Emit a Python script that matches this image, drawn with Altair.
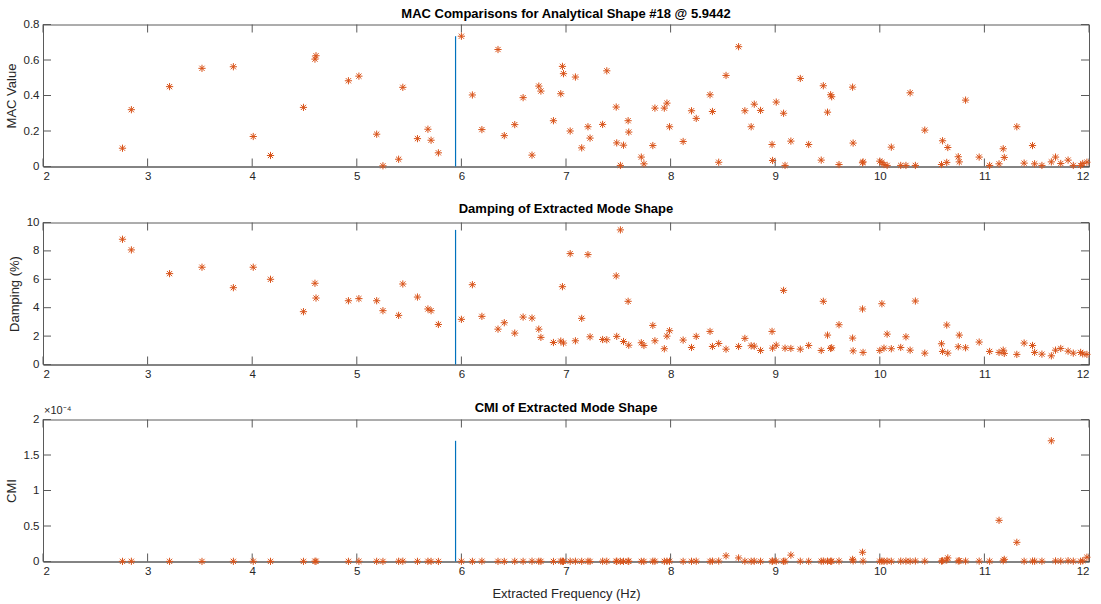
import altair as alt
import pandas as pd

# Extracted modal frequencies (Hz) with their MAC, damping and CMI values
freq = [
    2.76, 2.845, 3.21, 3.52, 3.82, 4.01, 4.175, 4.49, 4.60, 4.61,
    4.92, 5.02, 5.19, 5.25, 5.40, 5.44, 5.58, 5.68, 5.71, 5.78,
    6.00, 6.105, 6.196, 6.35, 6.41, 6.51, 6.59, 6.675, 6.74, 6.76,
    6.88, 6.95, 6.966, 6.976, 7.04, 7.09, 7.15, 7.21, 7.23, 7.35,
    7.39, 7.48, 7.485, 7.52, 7.55, 7.594, 7.60, 7.72, 7.745, 7.83,
    7.85, 7.94, 7.965, 7.99, 8.12, 8.20, 8.245, 8.377, 8.40, 8.46,
    8.53, 8.65, 8.71, 8.77, 8.80, 8.86, 8.97, 8.975, 9.01, 9.08,
    9.094, 9.15, 9.24, 9.32, 9.44, 9.46, 9.50, 9.53, 9.54, 9.61,
    9.74, 9.745, 9.835, 9.84, 10.00, 10.02, 10.04, 10.07, 10.11, 10.20,
    10.25, 10.29, 10.34, 10.43, 10.59, 10.60, 10.64, 10.65, 10.75, 10.76,
    10.82, 10.95, 11.05, 11.14, 11.18, 11.19, 11.31, 11.38, 11.46, 11.48,
    11.55, 11.64, 11.68, 11.73, 11.80, 11.85, 11.92, 11.94, 11.98,
]

mac = [
    0.103, 0.32, 0.45, 0.553, 0.562, 0.169, 0.062, 0.333, 0.605, 0.624,
    0.483, 0.509, 0.182, 0.004, 0.041, 0.446, 0.157, 0.21, 0.148, 0.077,
    0.734, 0.403, 0.208, 0.659, 0.174, 0.236, 0.388, 0.064, 0.453, 0.425,
    0.258, 0.41, 0.564, 0.523, 0.20, 0.504, 0.105, 0.224, 0.16, 0.237,
    0.539, 0.335, 0.133, 0.006, 0.12, 0.258, 0.194, 0.053, 0.015, 0.118,
    0.329, 0.329, 0.357, 0.224, 0.141, 0.314, 0.271, 0.404, 0.31, 0.024,
    0.513, 0.675, 0.314, 0.224, 0.351, 0.316, 0.124, 0.034, 0.363, 0.30,
    0.006, 0.143, 0.496, 0.124, 0.036, 0.455, 0.306, 0.404, 0.393, 0.011,
    0.447, 0.132, 0.021, 0.026, 0.03, 0.023, 0.011, 0.006, 0.109, 0.006,
    0.006, 0.415, 0.006, 0.205, 0.011, 0.145, 0.023, 0.107, 0.055, 0.026,
    0.374, 0.053, 0.006, 0.015, 0.10, 0.051, 0.224, 0.019, 0.118, 0.015,
    0.006, 0.026, 0.053, 0.017, 0.036, 0.006, 0.006, 0.017, 0.024,
]

damping = [
    8.82, 8.07, 6.40, 6.85, 5.41, 6.85, 6.00, 3.72, 5.72, 4.68,
    4.49, 4.64, 4.49, 3.79, 3.46, 5.67, 4.75, 3.91, 3.79, 2.82,
    3.18, 5.62, 3.39, 2.49, 2.94, 2.21, 3.34, 3.27, 2.49, 1.91,
    1.55, 1.65, 5.48, 1.51, 7.81, 1.67, 3.25, 7.74, 1.95, 1.76,
    1.74, 6.24, 1.98, 9.48, 1.62, 4.45, 1.36, 1.53, 1.34, 2.75,
    1.67, 1.11, 2.00, 2.38, 1.72, 1.20, 1.98, 2.33, 1.27, 1.48,
    1.08, 1.27, 1.84, 1.32, 1.29, 0.99, 2.33, 1.15, 1.36, 5.22,
    1.15, 1.13, 1.08, 1.34, 0.99, 4.45, 2.07, 1.13, 1.18, 2.80,
    1.86, 0.96, 3.91, 0.85, 0.99, 4.28, 1.15, 2.14, 1.11, 1.20,
    1.95, 1.01, 4.47, 0.80, 1.46, 0.92, 2.78, 0.80, 1.25, 2.07,
    1.18, 1.58, 0.92, 0.85, 1.01, 0.78, 0.71, 1.51, 1.34, 0.85,
    0.73, 0.61, 1.01, 1.13, 0.94, 0.80, 0.85, 0.75, 0.71,
]

# CMI in units of 1e-4
cmi_e4 = [
    0.002, 0.003, 0.002, 0.001, 0.002, 0.003, 0.002, 0.002, 0.004, 0.003,
    0.002, 0.003, 0.002, 0.001, 0.003, 0.004, 0.002, 0.003, 0.002, 0.001,
    0.003, 0.002, 0.004, 0.002, 0.001, 0.003, 0.002, 0.004, 0.003, 0.002,
    0.001, 0.004, 0.003, 0.002, 0.003, 0.004, 0.002, 0.003, 0.001, 0.004,
    0.003, 0.002, 0.004, 0.003, 0.002, 0.004, 0.003, 0.002, 0.001, 0.004,
    0.003, 0.002, 0.004, 0.003, 0.002, 0.003, 0.004, 0.002, 0.005, 0.006,
    0.08, 0.05, 0.004, 0.003, 0.005, 0.003, 0.004, 0.006, 0.005, 0.003,
    0.004, 0.09, 0.004, 0.003, 0.004, 0.006, 0.005, 0.004, 0.003, 0.006,
    0.03, 0.008, 0.13, 0.005, 0.004, 0.006, 0.003, 0.005, 0.004, 0.005,
    0.006, 0.004, 0.007, 0.005, 0.006, 0.01, 0.02, 0.05, 0.007, 0.01,
    0.006, 0.005, 0.004, 0.58, 0.01, 0.03, 0.27, 0.004, 0.006, 0.005,
    0.004, 1.70, 0.008, 0.006, 0.01, 0.005, 0.004, 0.01, 0.06,
]

analytical_freq = 5.9442
x_ticks = [2, 3, 4, 5, 6, 7, 8, 9, 10, 11, 12]
mac_ticks = [0, 0.2, 0.4, 0.6, 0.8]
damping_ticks = [0, 2, 4, 6, 8, 10]
cmi_ticks = [0, 0.5, 1, 1.5, 2]

ORANGE = "#D95319"
BLUE = "#0072BD"
AXIS_GRAY = "#5a5a5a"
TEXT = "#262626"
FONT = "Liberation Sans"
ASTERISK = "M-1,0L1,0M0,-1L0,1M-0.72,-0.72L0.72,0.72M-0.72,0.72L0.72,-0.72"

W, H = 1046, 142
TICK = 8

df = pd.DataFrame({"freq": freq, "mac": mac, "damping": damping, "cmi": cmi_e4})


def panel(col, values, title, ytitle, ydomain, yticks, xtitle=None,
          exponent=None, title_offset=-2):
    xs = alt.Scale(domain=[2, 12], nice=False, zero=False)
    ys = alt.Scale(domain=ydomain, nice=False, zero=False)
    xaxis = alt.Axis(values=x_ticks, tickSize=0, labelPadding=4, grid=False,
                     format="~r", title=xtitle, titlePadding=10)
    yaxis = alt.Axis(values=yticks, tickSize=0, labelPadding=4, grid=False,
                     format="~r", title=ytitle, titlePadding=5)

    def X(field):
        return alt.X(field, scale=xs, axis=xaxis, title=xtitle)

    def Y(field):
        return alt.Y(field, scale=ys, axis=yaxis, title=ytitle)

    points = alt.Chart(df).mark_point(
        shape=ASTERISK, filled=False, size=52, strokeWidth=1, color=ORANGE, opacity=1
    ).encode(x=X("freq:Q"), y=Y(f"{col}:Q"))

    vline = alt.Chart(pd.DataFrame({"freq": [analytical_freq], col: [max(values)]})).mark_rule(
        color=BLUE, strokeWidth=1.2
    ).encode(x=X("freq:Q"), y=Y(f"{col}:Q"), y2=alt.datum(0))

    xt = pd.DataFrame({"freq": x_ticks})
    yt = pd.DataFrame({col: yticks})
    tick_style = dict(color=AXIS_GRAY, strokeWidth=1)
    xbot = alt.Chart(xt).mark_rule(**tick_style).encode(
        x=X("freq:Q"), y=alt.value(H), y2=alt.value(H - TICK))
    xtop = alt.Chart(xt).mark_rule(**tick_style).encode(
        x=X("freq:Q"), y=alt.value(0), y2=alt.value(TICK))
    yleft = alt.Chart(yt).mark_rule(**tick_style).encode(
        y=Y(f"{col}:Q"), x=alt.value(0), x2=alt.value(TICK))
    yright = alt.Chart(yt).mark_rule(**tick_style).encode(
        y=Y(f"{col}:Q"), x=alt.value(W), x2=alt.value(W - TICK))

    layers = [xbot, xtop, yleft, yright, vline, points]
    if exponent:
        layers.append(
            alt.Chart(pd.DataFrame({"t": [exponent]})).mark_text(
                align="left", baseline="bottom", font=FONT, fontSize=11, color=TEXT
            ).encode(x=alt.value(1), y=alt.value(-4), text="t:N")
        )
    return alt.layer(*layers).properties(
        width=W, height=H,
        title=alt.TitleParams(title, font=FONT, fontSize=13, fontWeight="bold",
                              color="black", offset=title_offset),
    )


p1 = panel("mac", mac, "MAC Comparisons for Analytical Shape #18 @ 5.9442",
           "MAC Value", [0, 0.8], mac_ticks)
p2 = panel("damping", damping, "Damping of Extracted Mode Shape",
           "Damping (%)", [0, 10], damping_ticks, title_offset=0.5)
p3 = panel("cmi", cmi_e4, "CMI of Extracted Mode Shape",
           "CMI", [0, 2], cmi_ticks, xtitle="Extracted Frequency (Hz)",
           exponent="×10⁻⁴", title_offset=-10)

chart = alt.vconcat(p1, p2, p3, spacing=20).properties(
    padding={"left": 4, "top": 6.5, "right": 2, "bottom": 2},
    background="white",
).configure_view(
    stroke=AXIS_GRAY, strokeWidth=1
).configure_axis(
    domainColor=AXIS_GRAY, domainWidth=1,
    labelFont=FONT, labelFontSize=11.5, labelColor=TEXT,
    titleFont=FONT, titleFontSize=13, titleFontWeight="normal", titleColor=TEXT,
)

chart.save("out.html", embed_options={"renderer": "svg", "actions": False})
